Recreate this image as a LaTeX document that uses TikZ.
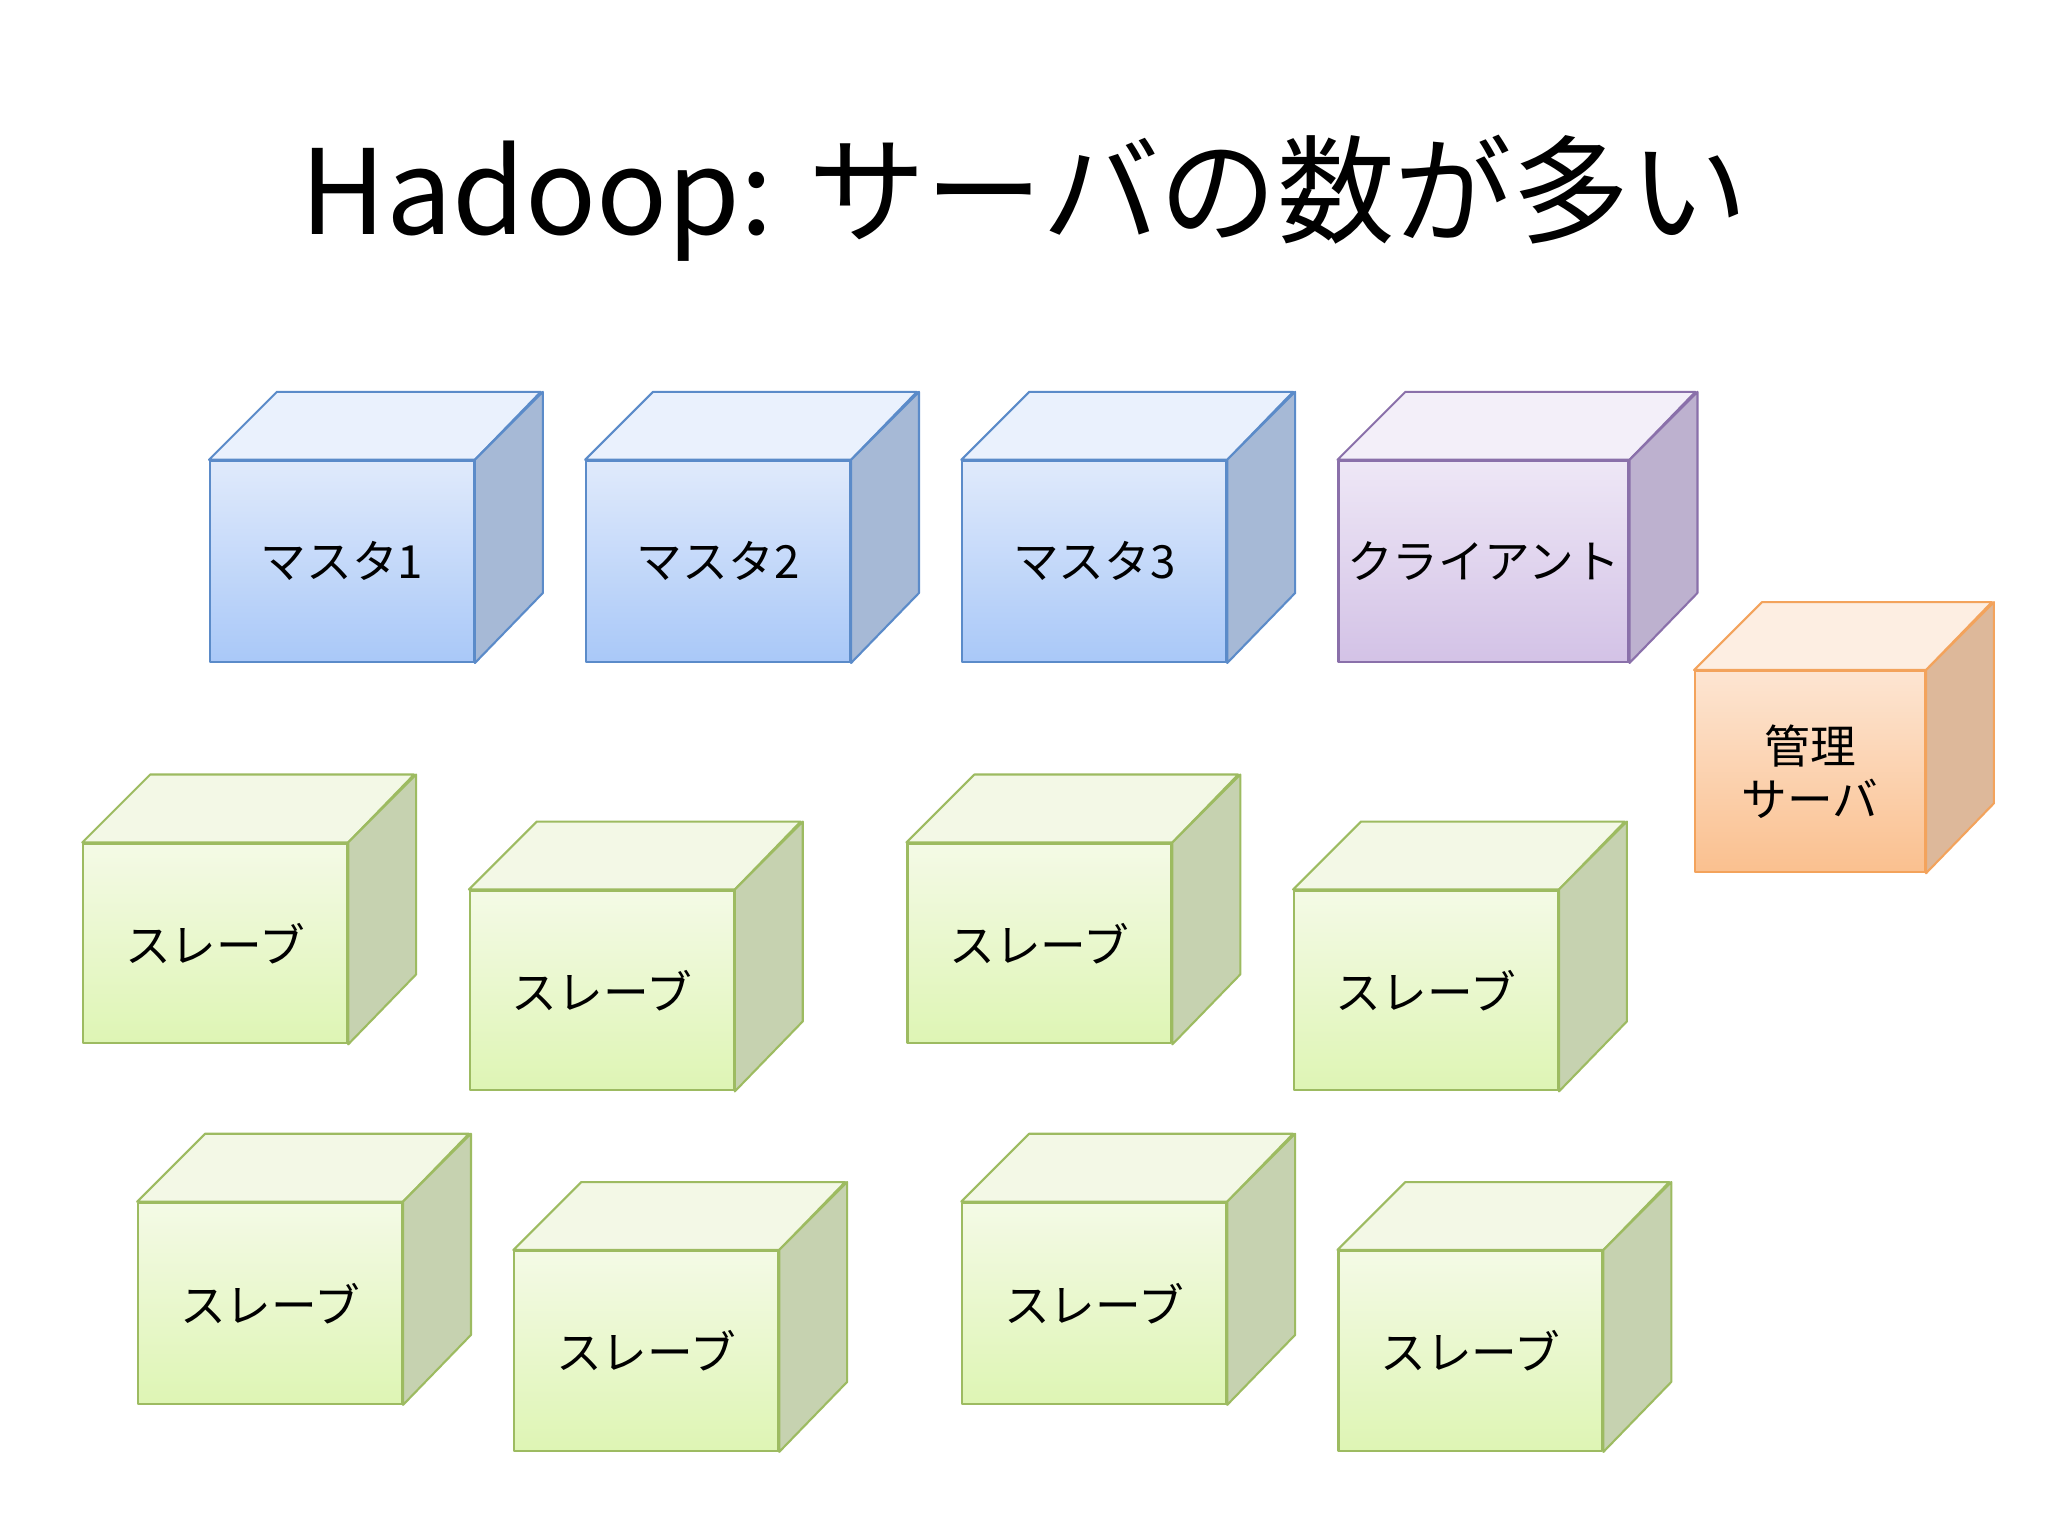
\documentclass[tikz,border=0pt]{standalone}
\usepackage{fontspec}
\setmainfont{Noto Sans CJK JP}
\definecolor{bF1}{HTML}{E0EAFB}\definecolor{bF2}{HTML}{A9C8F8}\definecolor{bT}{HTML}{EAF1FD}\definecolor{bS}{HTML}{A6B9D6}\definecolor{bB}{HTML}{5B8BC9}
\definecolor{gF1}{HTML}{F4FAE6}\definecolor{gF2}{HTML}{DEF5B4}\definecolor{gT}{HTML}{F3F8E6}\definecolor{gS}{HTML}{C6D2B0}\definecolor{gB}{HTML}{9DBB61}
\definecolor{pF1}{HTML}{EEE7F6}\definecolor{pF2}{HTML}{D3C2E6}\definecolor{pT}{HTML}{F3EFF9}\definecolor{pS}{HTML}{BDB1CF}\definecolor{pB}{HTML}{8A70AA}
\definecolor{oF1}{HTML}{FDE5D2}\definecolor{oF2}{HTML}{FAC08F}\definecolor{oT}{HTML}{FDEEE2}\definecolor{oS}{HTML}{DDB89A}\definecolor{oB}{HTML}{F3A35C}
\tikzset{face/.style={draw=#1,line width=0.8pt,line join=round},
 boxlabel/.style={font=\fontsize{17.5}{20}\selectfont,align=center}}
% name, x, y, w, h, d, prefix, text
\newcommand{\mycube}[8]{%
 \node[face=#7B,shade,top color=#7F1,bottom color=#7F2,anchor=north west,inner sep=0pt,
   minimum width=#4*0.5pt,minimum height=#5*0.5pt,boxlabel] (#1) at (#2,#3) {#8};
 \draw[face=#7B,fill=#7T] (#1.north west) -- ++(#6,-#6) -- ++(#4,0) -- (#1.north east) -- cycle;
 \draw[face=#7B,fill=#7S] (#1.north east) -- ++(#6,-#6) -- ++(0,#5) -- (#1.south east) -- cycle;
}
\begin{document}
\begin{tikzpicture}[x=0.5pt,y=-0.5pt]
\useasboundingbox[fill=white] (0,0) rectangle (1568,1176);
\node[font=\fontsize{45}{52}\selectfont] (title) at (784,152) {Hadoop: サーバの数が多い};
\mycube{m1}{160}{352}{202}{154}{52}{b}{マスタ1}
\mycube{m2}{448}{352}{202}{154}{52}{b}{マスタ2}
\mycube{m3}{736}{352}{202}{154}{52}{b}{マスタ3}
\mycube{cl}{1024}{352}{222}{154}{52}{p}{クライアント}
\mycube{ad}{1297}{513}{176}{154}{52}{o}{管理\\サーバ}
\mycube{s1}{63}{645}{202}{153}{52}{g}{スレーブ}
\mycube{s2}{359}{681}{202}{153}{52}{g}{スレーブ}
\mycube{s3}{694}{645}{202}{153}{52}{g}{スレーブ}
\mycube{s4}{990}{681}{202}{153}{52}{g}{スレーブ}
\mycube{s5}{105}{920}{202}{154}{52}{g}{スレーブ}
\mycube{s6}{393}{957}{202}{153}{52}{g}{スレーブ}
\mycube{s7}{736}{920}{202}{154}{52}{g}{スレーブ}
\mycube{s8}{1024}{957}{202}{153}{52}{g}{スレーブ}
\end{tikzpicture}
\end{document}
